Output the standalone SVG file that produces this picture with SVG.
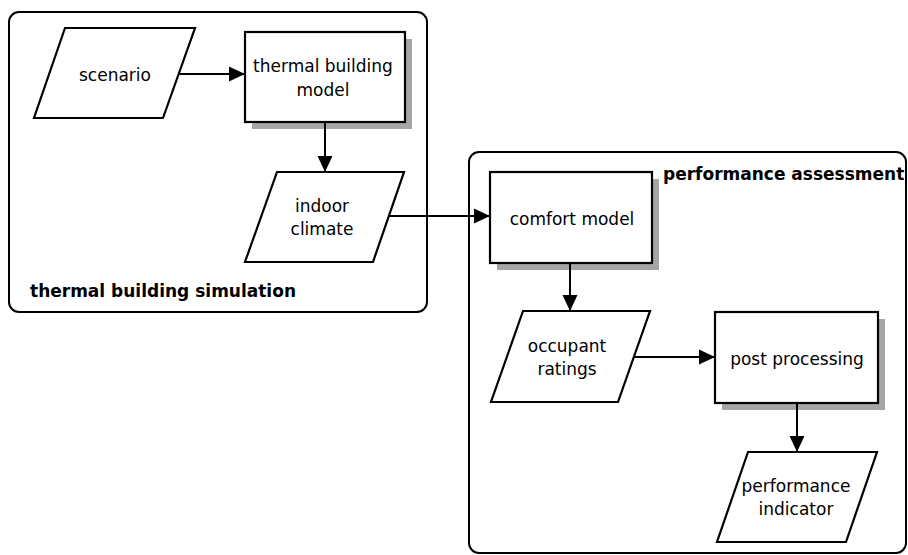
<svg xmlns="http://www.w3.org/2000/svg" width="908" height="555" viewBox="0 0 908 555">
<defs>
<style>
.grp{fill:none;stroke:#000;stroke-width:2}
.node{fill:#fff;stroke:#000;stroke-width:2.2}
.shadow{fill:#a6a6a6;stroke:none}
.lbl{font-family:"DejaVu Sans","Liberation Sans",sans-serif;font-size:17px;fill:#000;text-anchor:middle}
.title{font-family:"DejaVu Sans","Liberation Sans",sans-serif;font-size:17px;font-weight:bold;fill:#000}
.conn{fill:none;stroke:#000;stroke-width:2}
</style>
<marker id="arr" markerUnits="userSpaceOnUse" markerWidth="16" markerHeight="16" viewBox="0 0 15 14" refX="15" refY="7" orient="auto">
<path d="M0,0 L15,7 L0,14 Z" fill="#000"/>
</marker>
</defs>
<rect width="908" height="555" fill="#fff"/>

<g id="group-thermal-building-simulation">
<rect class="grp" x="9" y="12" width="418" height="300" rx="10" ry="10"/>
<text class="title" x="30" y="297">thermal building simulation</text>
</g>

<g id="group-performance-assessment">
<rect class="grp" x="469" y="152" width="437" height="401" rx="10" ry="10"/>
<text class="title" x="663" y="180">performance assessment</text>
</g>

<g id="node-scenario">
<polygon class="node" points="65,28 195,28 163,118 34,118"/>
<text class="lbl" x="115" y="81">scenario</text>
</g>

<g id="node-thermal-building-model">
<rect class="shadow" x="252" y="39" width="160" height="90"/>
<rect class="node" x="245" y="32" width="160" height="90"/>
<text class="lbl" x="323" y="72">thermal building</text>
<text class="lbl" x="323" y="96">model</text>
</g>

<g id="node-indoor-climate">
<polygon class="node" points="277,172 404,172 373,262 245,262"/>
<text class="lbl" x="322" y="212">indoor</text>
<text class="lbl" x="322" y="235">climate</text>
</g>

<g id="node-comfort-model">
<rect class="shadow" x="497" y="179" width="162" height="91"/>
<rect class="node" x="490" y="172" width="162" height="91"/>
<text class="lbl" x="572" y="225">comfort model</text>
</g>

<g id="node-occupant-ratings">
<polygon class="node" points="523,311 650,311 618,402 491,402"/>
<text class="lbl" x="567" y="352">occupant</text>
<text class="lbl" x="567" y="375">ratings</text>
</g>

<g id="node-post-processing">
<rect class="shadow" x="722" y="319" width="163" height="91"/>
<rect class="node" x="715" y="312" width="163" height="91"/>
<text class="lbl" x="797" y="365">post processing</text>
</g>

<g id="node-performance-indicator">
<polygon class="node" points="748,452 877,452 846,542 717,542"/>
<text class="lbl" x="796" y="492">performance</text>
<text class="lbl" x="796" y="515">indicator</text>
</g>

<g id="connectors">
<line class="conn" x1="179" y1="74" x2="245" y2="74" marker-end="url(#arr)"/>
<line class="conn" x1="325" y1="122" x2="325" y2="172" marker-end="url(#arr)"/>
<line class="conn" x1="389" y1="216" x2="490" y2="216" marker-end="url(#arr)"/>
<line class="conn" x1="570" y1="263" x2="570" y2="311" marker-end="url(#arr)"/>
<line class="conn" x1="634" y1="357" x2="715" y2="357" marker-end="url(#arr)"/>
<line class="conn" x1="797" y1="403" x2="797" y2="452" marker-end="url(#arr)"/>
</g>
</svg>
